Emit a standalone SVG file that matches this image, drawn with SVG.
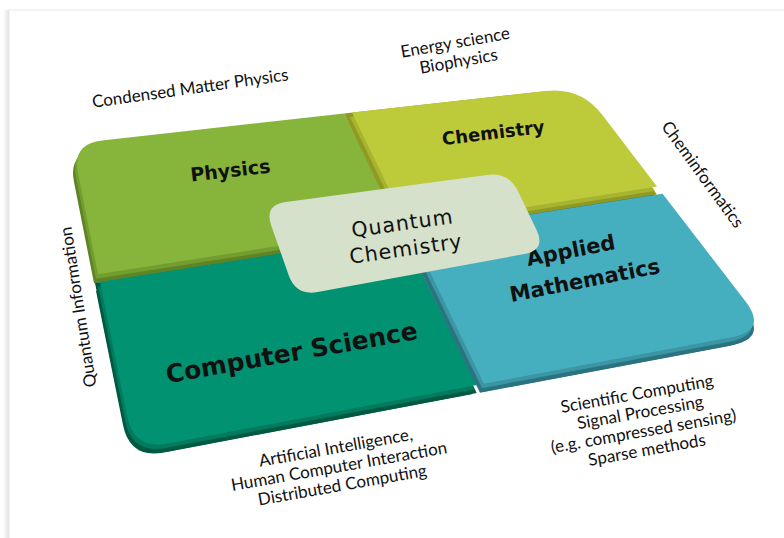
<svg xmlns="http://www.w3.org/2000/svg" xmlns:xlink="http://www.w3.org/1999/xlink" width="784" height="538" viewBox="0 0 784 538">
<style>
.lbl{font-family:"DejaVu Sans",Verdana,sans-serif;font-weight:bold;fill:#111;text-anchor:middle}
.qc{font-family:"DejaVu Sans",Verdana,sans-serif;fill:#111;text-anchor:middle;font-size:20.5px;letter-spacing:1px}
.out{font-family:Lato,"Open Sans",sans-serif;fill:#111;text-anchor:middle;font-size:17px}
</style>
<defs>
<linearGradient id="shadowL" x1="0" y1="0" x2="1" y2="0">
<stop offset="0" stop-color="#fff"/>
<stop offset="1" stop-color="#e2e2e2"/>
</linearGradient>
<path id="pPhys" d="M102,140.6 L344,113.5 L400,227 L98,274.3 L78,173 Q72,144 102,140.6 Z"/>
<path id="pChem" d="M352,112.6 L546,91 Q581,87 602.4,115 L657,186.5 L407,226 Z"/>
<path id="pCS" d="M100,282 L403,234.3 L476.7,385 L168,443.5 Q134,450 127,416 Z"/>
<path id="pAM" d="M411,233.2 L662.6,193.7 L746,302 Q767,330 733,337 L484,383.7 Z"/>
</defs>
<rect width="784" height="538" fill="#fff"/>
<rect x="3" y="10" width="6" height="528" fill="url(#shadowL)"/>
<rect x="9" y="10" width="790" height="540" fill="#fff" stroke="#e8e8e8" stroke-width="1"/>

<g id="physics">
<use xlink:href="#pPhys" transform="translate(0,8)" fill="#5E8426"/>
<use xlink:href="#pPhys" transform="translate(-4,9)" fill="#5E8426"/>
<use xlink:href="#pPhys" transform="translate(-2,4.5)" fill="#729E30"/>
<use xlink:href="#pPhys" fill="#87B43A"/>
<text class="lbl" font-size="19" transform="translate(231,177) rotate(-6.5)">Physics</text>
</g>
<g id="chemistry">
<use xlink:href="#pChem" transform="translate(-8,1)" fill="#8E9A22"/>
<use xlink:href="#pChem" transform="translate(0,8)" fill="#8E9A22"/>
<use xlink:href="#pChem" transform="translate(-4,9)" fill="#8E9A22"/>
<use xlink:href="#pChem" transform="translate(-2,4.5)" fill="#A7B42F"/>
<use xlink:href="#pChem" fill="#BDCB3B"/>
<text class="lbl" font-size="18" transform="translate(494,139) rotate(-7)">Chemistry</text>
</g>
<g id="computer-science">
<use xlink:href="#pCS" transform="translate(-5,1)" fill="#005A42"/>
<use xlink:href="#pCS" transform="translate(0,8)" fill="#005A42"/>
<use xlink:href="#pCS" transform="translate(-4,9)" fill="#005A42"/>
<use xlink:href="#pCS" transform="translate(-2,4.5)" fill="#017A5E"/>
<use xlink:href="#pCS" fill="#019272"/>
<text class="lbl" font-size="25" transform="translate(293,361) rotate(-10)">Computer Science</text>
</g>
<g id="applied-mathematics">
<use xlink:href="#pAM" transform="translate(-8,1)" fill="#2A7481"/>
<use xlink:href="#pAM" transform="translate(0,8)" fill="#2A7481"/>
<use xlink:href="#pAM" transform="translate(-4,9)" fill="#2A7481"/>
<use xlink:href="#pAM" transform="translate(-2,4.5)" fill="#3B95A3"/>
<use xlink:href="#pAM" fill="#46AFBF"/>
<text class="lbl" font-size="21" transform="translate(580,256) rotate(-11)"><tspan x="-8" y="0">Applied</tspan><tspan x="0" y="32">Mathematics</tspan></text>
</g>
<g id="quantum-chemistry">
<path d="M285.8,202.1 L487.2,174.9 Q509,172 518.4,191.9 L536.6,230.1 Q546,250 524.4,254 L317.6,292 Q296,296 288.7,275.3 L271.3,225.7 Q264,205 285.8,202.1 Z" fill="#D5E1CA"/>
<text class="qc" transform="translate(405,242) rotate(-8)"><tspan x="0" y="-12">Quantum</tspan><tspan x="0" y="14">Chemistry</tspan></text>
</g>

<g id="labels">
<text class="out" transform="translate(191,94) rotate(-8)">Condensed Matter Physics</text>
<text class="out" transform="translate(458,58) rotate(-10)"><tspan x="0" y="-10">Energy science</tspan><tspan x="0" y="9">Biophysics</tspan></text>
<text class="out" transform="translate(702,175) rotate(54)" dy="5">Cheminformatics</text>
<text class="out" transform="translate(79,307) rotate(-99)" dy="5">Quantum Information</text>
<text class="out" transform="translate(340,472) rotate(-10)"><tspan x="0" y="-19">Artificial Intelligence,</tspan><tspan x="0" y="0">Human Computer Interaction</tspan><tspan x="0" y="19">Distributed Computing</tspan></text>
<text class="out" transform="translate(643,428) rotate(-10)"><tspan x="0" y="-29">Scientific Computing</tspan><tspan x="0" y="-10">Signal Processing</tspan><tspan x="0" y="9">(e.g. compressed sensing)</tspan><tspan x="0" y="28">Sparse methods</tspan></text>
</g>
</svg>
